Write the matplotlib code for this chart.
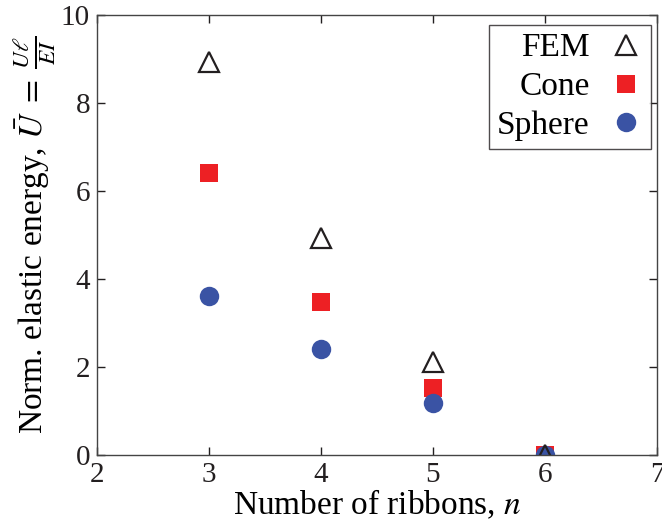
import matplotlib
matplotlib.use("Agg")
import matplotlib.pyplot as plt

n = [3, 4, 5, 6]
fem = [8.93, 4.93, 2.11, 0.0]
cone = [6.41, 3.48, 1.52, 0.0]
sphere = [3.61, 2.41, 1.18, 0.0]

plt.rcParams['font.family'] = ['Liberation Serif']
plt.rcParams['mathtext.fontset'] = 'stix'

fig = plt.figure(figsize=(6.62, 5.27), dpi=100)
ax = fig.add_axes([0.1465, 0.1366, 0.8459, 0.835])

h_cone, = ax.plot(n, cone, 's', color='#ED2024', markersize=13.5, markeredgewidth=0, linestyle='none', label='Cone')
h_sph, = ax.plot(n, sphere, 'o', color='#3A53A4', markersize=14, markeredgewidth=0, linestyle='none', label='Sphere')
h_fem, = ax.plot(n, fem, '^', markerfacecolor='none', markeredgecolor='#231F20', markersize=15, markeredgewidth=1.6, linestyle='none', label='FEM')

ax.set_xlim(2, 7)
ax.set_ylim(0, 10)
ax.set_xticks([2, 3, 4, 5, 6, 7])
ax.set_yticks([0, 2, 4, 6, 8, 10])
ax.tick_params(direction='in', top=True, right=True, labelsize=21, length=6, width=1, colors='#231F20', pad=5)
for s in ax.spines.values():
    s.set_color('#444444')
    s.set_linewidth(1)

ax.set_xlabel(r'Number of ribbons, $n$', fontsize=24, labelpad=0)
ax.set_ylabel(r'Norm. elastic energy, $\bar{U}\;=\;\frac{U\ell}{EI}$', fontsize=24, labelpad=2)

leg = ax.legend(handles=[h_fem, h_cone, h_sph], loc='upper right', bbox_to_anchor=(0.99, 0.978),
                markerfirst=False, fontsize=24, frameon=True, fancybox=False, edgecolor='#231F20',
                handlelength=1.0, handletextpad=0.6, borderpad=0.25, labelspacing=0.25, borderaxespad=0.0)
leg.get_frame().set_linewidth(1.0)
for t in leg.get_texts():
    t.set_ha('right')

fig.savefig('out.png', dpi=100)
